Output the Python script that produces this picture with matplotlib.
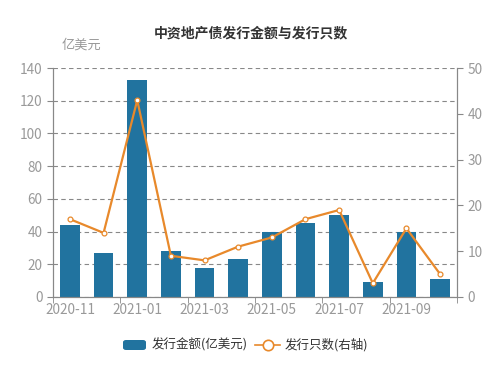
import matplotlib.pyplot as plt
import numpy as np
from matplotlib.lines import Line2D
from matplotlib.patches import FancyBboxPatch

plt.rcParams['font.family'] = ['Noto Sans CJK SC', 'DejaVu Sans']

# data
months = ['2020-11', '2020-12', '2021-01', '2021-02', '2021-03', '2021-04',
          '2021-05', '2021-06', '2021-07', '2021-08', '2021-09', '2021-10']
amount = [44, 27, 133, 28, 18, 23, 40, 45, 50, 9, 40, 11]
count = [17, 14, 43, 9, 8, 11, 13, 17, 19, 3, 15, 5]

bar_color = '#21739f'
line_color = '#e8892b'
gray = '#999999'
axis_gray = '#888888'

fig = plt.figure(figsize=(5.01, 3.71), dpi=100)
ax = fig.add_axes([0.106, 0.1995, 0.806, 0.617])
ax2 = ax.twinx()

x = np.arange(len(months))
ax.bar(x, amount, width=0.58, color=bar_color, zorder=2)
ax2.plot(x, count, color=line_color, lw=1.6, marker='o', ms=3.5,
         mfc='white', mec=line_color, mew=0.9, zorder=3)

ax.set_xlim(-0.5, len(months) - 0.5)
ax.set_ylim(0, 140)
ax.set_yticks(range(0, 141, 20))
ax2.set_ylim(0, 50)
ax2.set_yticks(range(0, 51, 10))

ax.set_xticks(x[::2])
ax.set_xticklabels(months[::2])
ax.set_xticks(np.arange(-0.5, len(months), 2), minor=True)

ax.grid(axis='y', linestyle=(0, (4, 3)), color='#888888', lw=0.8, zorder=0)
ax.set_axisbelow(True)

for a in (ax, ax2):
    for s in a.spines.values():
        s.set_color(axis_gray)
        s.set_linewidth(0.8)
    a.spines['top'].set_visible(False)
    a.tick_params(colors=gray, labelsize=9.8, length=4, width=0.8)
    a.tick_params(axis='both', color=axis_gray)
ax.tick_params(axis='x', which='major', length=0, pad=4)
ax.tick_params(axis='x', which='minor', length=4, color=axis_gray)

fig.text(0.5, 0.91, '中资地产债发行金额与发行只数', ha='center', va='center',
         fontsize=10, fontweight='bold', color='#333333')
fig.text(0.122, 0.878, '亿美元', ha='left', va='center', fontsize=9.5, color=gray)

# legend drawn by hand to get the rounded bar swatch (figure pixel coords)
W, H = 501, 371
leg_y = 26
fig.patches.append(FancyBboxPatch((123 / W, (leg_y - 5) / H), 23 / W, 10 / H,
                                  boxstyle='round,pad=0,rounding_size=0.006',
                                  transform=fig.transFigure, facecolor=bar_color,
                                  edgecolor='none'))
fig.text(152 / W, leg_y / H, '发行金额(亿美元)', ha='left', va='center',
         fontsize=9, color='#333333')
fig.lines.append(Line2D([255 / W, 280 / W], [leg_y / H, leg_y / H],
                        transform=fig.transFigure, color=line_color, lw=1.2))
fig.lines.append(Line2D([267.5 / W], [leg_y / H], transform=fig.transFigure,
                        marker='o', ms=7.5, mfc='white', mec=line_color, mew=1.2))
fig.text(285 / W, leg_y / H, '发行只数(右轴)', ha='left', va='center',
         fontsize=9, color='#333333')

fig.savefig('out.png', dpi=100)
